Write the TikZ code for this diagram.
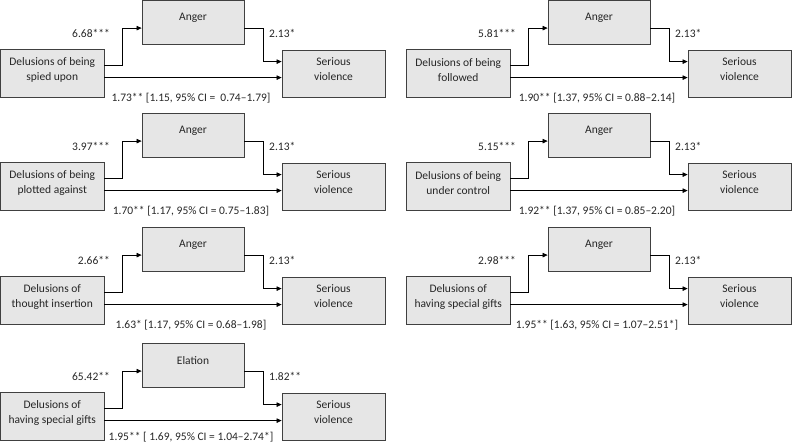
\documentclass[tikz,border=0pt]{standalone}
\usepackage{fontspec}
\setmainfont{Carlito}
\usetikzlibrary{arrows.meta}
\definecolor{boxfill}{HTML}{E6E6E6}
\definecolor{boxline}{HTML}{404040}
\definecolor{txtcol}{HTML}{262626}
\tikzset{
  boxnode/.style={draw=boxline, fill=boxfill, line width=0.8pt, inner sep=0pt},
  txt/.style={text=txtcol, align=center, inner sep=0pt, font=\fontsize{11.5pt}{15.5pt}\selectfont},
  lbl/.style={text=txtcol, inner sep=0pt, font=\fontsize{11.5pt}{15.5pt}\selectfont},
  arr/.style={draw=black, line width=0.7pt, -{Triangle[length=5pt,width=4.5pt]}},
}
\newcommand{\panel}[9]{%
  % #1 X, #2 T, #3 id, #4 source text, #5 mediator, #6 a, #7 b, #8 bottom, #9 bottom label offset
  \node[boxnode, minimum width=103.5pt, minimum height=48pt] (s#3) at (#1+52.25, #2+73) {};
  \node[txt] (st#3) at ([yshift=3pt]s#3.center) {#4};
  \node[boxnode, minimum width=102pt, minimum height=44pt] (m#3) at (#1+193, #2+22) {};
  \node[txt] (mt#3) at ([yshift=4.5pt]m#3.center) {#5};
  \node[boxnode, minimum width=103pt, minimum height=47pt] (v#3) at (#1+333.5, #2+73.5) {};
  \node[txt] (vt#3) at ([yshift=4.5pt]v#3.center) {Serious\\violence};
  \coordinate (p#3) at ([yshift=-17pt]s#3.north east);
  \coordinate (q#3) at ([yshift=-29pt]s#3.north east);
  \coordinate (mi#3) at ([yshift=-28.5pt]m#3.north west);
  \coordinate (mo#3) at ([yshift=-28.5pt]m#3.north east);
  \coordinate (vi#3) at ([yshift=-12pt]v#3.north west);
  \draw[arr] (p#3) -- ++(18,0) |- (mi#3);
  \draw[arr] (mo#3) -- ++(19,0) |- (vi#3);
  \draw[arr] (q#3) -- (q#3 -| v#3.west);
  \node[lbl, anchor=east] (a#3) at (#1+110, #2+33) {#6};
  \node[lbl, anchor=west] (b#3) at (#1+269, #2+33) {#7};
  \node[lbl] (c#3) at (#1+191, #2+#9) {#8};
}
\begin{document}
\begin{tikzpicture}[x=1pt, y=-1pt]
\useasboundingbox (0,0) rectangle (792,445);
\panel{0}{0}{1}{Delusions of being\\spied upon}{Anger}{6.68***}{2.13*}{1.73** [1.15, 95\% CI = \ 0.74–1.79]}{98}
\panel{406}{0}{2}{Delusions of being\\followed}{Anger}{5.81***}{2.13*}{1.90** [1.37, 95\% CI = 0.88–2.14]}{98}
\panel{0}{113}{3}{Delusions of being\\plotted against}{Anger}{3.97***}{2.13*}{1.70** [1.17, 95\% CI = 0.75–1.83]}{98}
\panel{406}{113}{4}{Delusions of being\\under control}{Anger}{5.15***}{2.13*}{1.92** [1.37, 95\% CI = 0.85–2.20]}{98}
\panel{0}{227}{5}{Delusions of\\thought insertion}{Anger}{2.66**}{2.13*}{1.63* [1.17, 95\% CI = 0.68–1.98]}{98}
\panel{406}{227}{6}{Delusions of\\having special gifts}{Anger}{2.98***}{2.13*}{1.95** [1.63, 95\% CI = 1.07–2.51*]}{98}
\panel{0}{343}{7}{Delusions of\\having special gifts}{Elation}{65.42**}{1.82**}{1.95** [ 1.69, 95\% CI = 1.04–2.74*]}{94}
\end{tikzpicture}
\end{document}
